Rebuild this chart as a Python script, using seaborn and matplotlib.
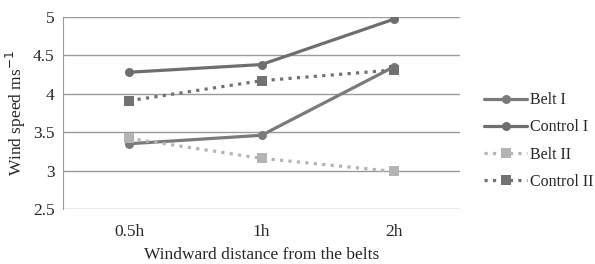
import pandas as pd
import seaborn as sns
import matplotlib.pyplot as plt

# -------------------------------
# Data
# -------------------------------
distances = ["0.5h", "1h", "2h"]
belt_1 = [3.35, 3.46, 4.35]
control_1 = [4.28, 4.38, 4.97]
belt_2 = [3.42, 3.16, 2.99]
control_2 = [3.91, 4.17, 4.31]

series_names = ["Belt I", "Control I", "Belt II", "Control II"]
series_values = [belt_1, control_1, belt_2, control_2]

rows = []
for name, vals in zip(series_names, series_values):
    for d, v in zip(distances, vals):
        rows.append({"distance": d, "speed": v, "series": name})
df = pd.DataFrame(rows)

# -------------------------------
# Styling
# -------------------------------
sns.set_style("white")
plt.rcParams['font.family'] = ['Liberation Serif', 'DejaVu Serif']

colors = {"Belt I": "#7a7a7a", "Control I": "#6e6e6e",
          "Belt II": "#b4b4b4", "Control II": "#727272"}
markers = {"Belt I": "o", "Control I": "o", "Belt II": "s", "Control II": "s"}
dashes = {"Belt I": "-", "Control I": "-", "Belt II": ":", "Control II": ":"}

fig = plt.figure(figsize=(5.95, 2.64), dpi=100)
ax = fig.add_axes([0.106, 0.208, 0.667, 0.728])

for name in series_names:
    sub = df[df["series"] == name]
    sns.lineplot(data=sub, x="distance", y="speed", ax=ax, label=name,
                 color=colors[name], marker=markers[name], markersize=6.5,
                 markeredgewidth=0, linewidth=2.3, linestyle=dashes[name],
                 sort=False)

ax.set_xlim(-0.5, 2.5)
ax.set_ylim(2.5, 5)
ax.set_yticks([2.5, 3, 3.5, 4, 4.5, 5])
ax.set_yticklabels(["2.5", "3", "3.5", "4", "4.5", "5"])
ax.yaxis.grid(True, color="#9a9a9a", linewidth=1)
ax.set_axisbelow(True)
for side in ["top", "right", "bottom"]:
    ax.spines[side].set_visible(False)
ax.spines["left"].set_color("#9a9a9a")
ax.tick_params(axis="both", length=0, labelsize=12.5, pad=6)
ax.tick_params(axis="x", pad=11)

ax.set_xlabel("Windward distance from the belts", fontsize=12.5, labelpad=5)
ax.set_ylabel("Wind speed ms$^{-1}$", fontsize=12.5, labelpad=4)

ax.legend(loc="center left", bbox_to_anchor=(1.045, 0.354), frameon=False,
          borderaxespad=0, fontsize=11.5, handlelength=2.7,
          labelspacing=0.7, handletextpad=0.15)

plt.savefig("out.png", dpi=100)
plt.close()
